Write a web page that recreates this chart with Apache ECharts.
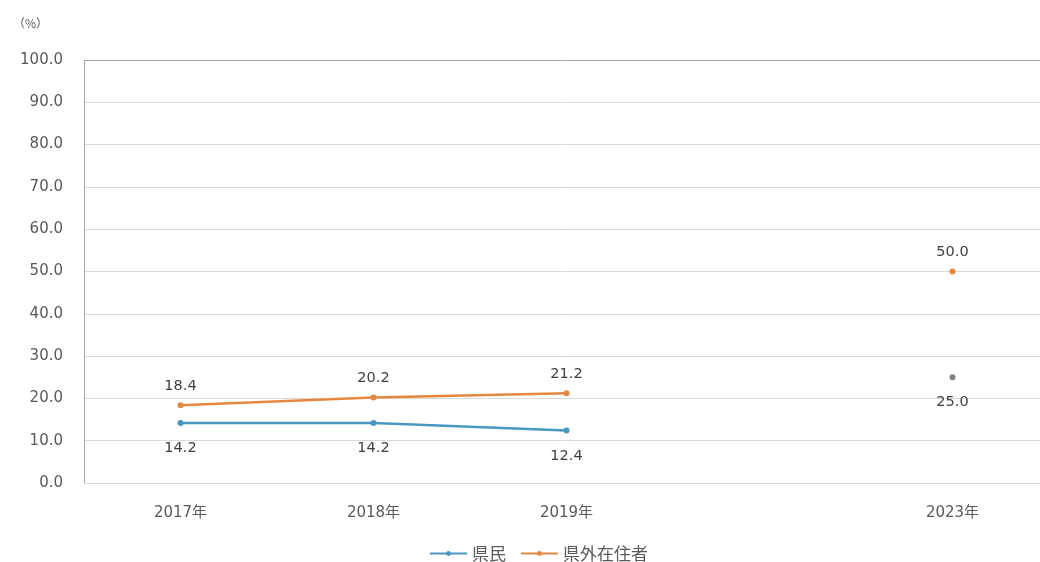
<!DOCTYPE html>
<html>
<head>
<meta charset="utf-8">
<script src="https://cdn.jsdelivr.net/npm/echarts@6/dist/echarts.min.js"></script>
<style>
  html, body { margin: 0; padding: 0; background: #fff; }
  #chart { width: 1040px; height: 562px; }
</style>
</head>
<body>
<div id="chart"></div>
<script>
// Survey years (the blank slot keeps the gap before 2023)
const years = ['2017年', '2018年', '2019年', '', '2023年'];
// 県民 values; 2023 is the target value
const kenmin = [14.2, 14.2, 12.4, null, 25.0];
// 県外在住者 values; 2023 is the target value
const kengai = [18.4, 20.2, 21.2, null, 50.0];
const yTicks = { min: 0, max: 100, step: 10 };

const FONT = '"DejaVu Sans", "Noto Sans CJK JP", sans-serif';
const CJK = '"Noto Sans CJK JP", sans-serif';
const BLUE = '#4a97c2';
const ORANGE = '#e5883f';
const GREY = '#7f7f7f';

// the 2023 県民 target is drawn as a grey point
const kenminData = kenmin.map((v, i) =>
  (i === kenmin.length - 1 && v != null) ? { value: v, itemStyle: { color: GREY } } : v);

const splitColors = [];
for (let v = yTicks.min; v <= yTicks.max; v += yTicks.step) {
  splitColors.push(v === yTicks.max ? '#a6a6a6' : '#d9d9d9');
}

const chart = echarts.init(document.getElementById('chart'), null, { renderer: 'canvas' });
chart.setOption({
  backgroundColor: '#ffffff',
  animation: false,
  textStyle: { fontFamily: FONT },
  // the plot runs a little past the right edge of the canvas
  grid: { left: 84, right: -9, top: 60, bottom: 79, containLabel: false, outerBoundsMode: 'none' },
  graphic: [{
    type: 'text', left: 13, top: 17,
    style: { text: '（%）', fontSize: 12, fill: '#595959', fontFamily: CJK }
  }],
  legend: {
    top: 540,
    left: 424,
    itemWidth: 37,
    itemHeight: 6,
    itemGap: 14,
    textStyle: { fontSize: 17, color: '#595959', fontFamily: CJK },
    data: ['県民', '県外在住者']
  },
  xAxis: {
    type: 'category',
    data: years,
    boundaryGap: true,
    axisLine: { show: true, lineStyle: { color: '#d9d9d9', width: 1 } },
    axisTick: { show: false },
    axisLabel: { color: '#595959', fontSize: 15, margin: 23, fontFamily: FONT },
    splitLine: { show: false }
  },
  yAxis: {
    type: 'value',
    min: yTicks.min,
    max: yTicks.max,
    interval: yTicks.step,
    axisLine: { show: true, lineStyle: { color: '#a6a6a6', width: 1 } },
    axisTick: { show: false },
    axisLabel: {
      color: '#595959', fontSize: 15, margin: 21, fontFamily: FONT,
      formatter: v => v.toFixed(1)
    },
    splitLine: { show: true, lineStyle: { color: splitColors, width: 1 } }
  },
  series: [
    {
      name: '県民',
      type: 'line',
      data: kenminData,
      color: BLUE,
      connectNulls: false,
      symbol: 'circle',
      symbolSize: 6,
      showSymbol: true,
      lineStyle: { width: 2.5, color: BLUE },
      itemStyle: { color: BLUE },
      label: {
        show: true, position: 'bottom', distance: 15,
        color: '#404040', fontSize: 14.5, fontFamily: FONT,
        formatter: p => Number(p.value).toFixed(1)
      }
    },
    {
      name: '県外在住者',
      type: 'line',
      data: kengai,
      color: ORANGE,
      connectNulls: false,
      symbol: 'circle',
      symbolSize: 6,
      showSymbol: true,
      lineStyle: { width: 2.5, color: ORANGE },
      itemStyle: { color: ORANGE },
      label: {
        show: true, position: 'top', distance: 9,
        color: '#404040', fontSize: 14.5, fontFamily: FONT,
        formatter: p => Number(p.value).toFixed(1)
      }
    }
  ]
});
</script>
</body>
</html>
